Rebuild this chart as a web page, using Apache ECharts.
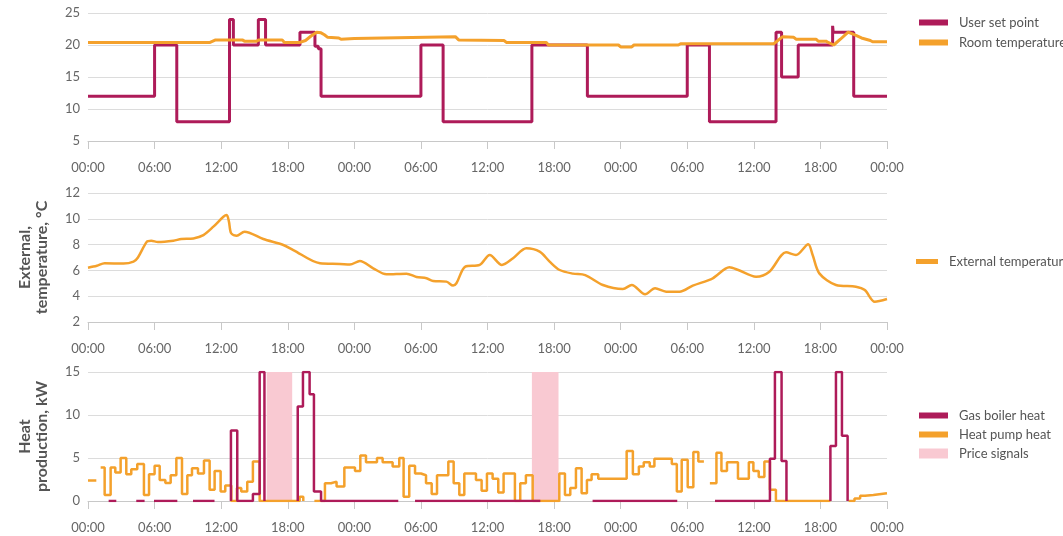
<!DOCTYPE html>
<html>
<head>
<meta charset="utf-8">
<script src="https://cdn.jsdelivr.net/npm/echarts@6/dist/echarts.min.js"></script>
<style>
html, body { margin: 0; padding: 0; background: #fff; }
#main { width: 1063px; height: 536px; }
</style>
</head>
<body>
<div id="main"></div>
<script>
// hours since start (0..72) paired with values
var tickLabels = ['00:00', '06:00', '12:00', '18:00'];

var setPoint = [
    [0, 12], [6, 20], [8, 8], [12.75, 24], [13.1, 20], [15.35, 24], [16, 20], [19.1, 22],
    [20.45, 19.8], [20.75, 19.4], [21, 12], [30, 20], [32, 8], [40, 20], [45, 12], [54, 20],
    [56, 8], [62, 22], [62.5, 15], [64, 20], [67.1, 23], [67.15, 22], [69, 12], [72, 12]
];

var roomTemp = [
    [0, 20.4], [11.0, 20.4], [11.5, 20.8], [13.9, 20.8], [14.1, 20.6], [15.2, 20.6], [15.4, 20.8],
    [17.5, 20.8], [17.7, 20.4], [19.1, 20.4], [19.6, 20.7], [20.1, 21.4], [20.6, 22.0], [21.0, 21.9],
    [21.3, 21.6], [21.6, 21.2], [22.6, 21.1], [22.8, 20.9], [24, 21.0], [33.1, 21.3], [33.4, 20.8],
    [37.5, 20.7], [37.7, 20.4], [41.3, 20.4], [41.5, 20.0], [47.8, 20.0], [48.0, 19.7], [49.0, 19.7],
    [49.2, 20.0], [53.2, 20.0], [53.4, 20.2], [61.8, 20.2], [62.6, 21.3], [63.6, 21.2], [63.8, 20.9],
    [65.6, 20.9], [65.8, 20.6], [66.5, 20.6], [66.7, 20.4], [67.2, 20.0], [67.8, 20.9], [68.5, 22.0],
    [69.2, 21.5], [69.7, 21.1], [70.5, 20.7], [70.7, 20.5], [72, 20.5]
];

var externalTemp = [
    [0, 6.21], [0.8, 6.36], [1.5, 6.55], [3.2, 6.53], [4.1, 6.68], [4.5, 7.0], [5.3, 8.22], [5.7, 8.3],
    [6.3, 8.2], [7.7, 8.3], [8.4, 8.43], [9.5, 8.48], [10.4, 8.74], [11.3, 9.39], [12.2, 10.16],
    [12.5, 10.3], [12.7, 9.78], [12.9, 8.88], [13.4, 8.69], [14.1, 9.0], [15.8, 8.43], [17.6, 7.97],
    [18.5, 7.58], [20.9, 6.55], [22.7, 6.5], [23.6, 6.45], [24.5, 6.73], [25.7, 6.16], [26.9, 5.7],
    [28.7, 5.75], [29.6, 5.49], [30.5, 5.39], [31.1, 5.18], [32.3, 5.13], [32.9, 4.82], [33.2, 5.0],
    [34, 6.29], [35.3, 6.42], [36.2, 7.19], [37.3, 6.42], [38.3, 6.94], [39.5, 7.71], [40.7, 7.45],
    [41.6, 6.68], [42.5, 6.03], [43.7, 5.75], [44.8, 5.64], [46.4, 4.87], [48.2, 4.56], [49, 4.87],
    [50.2, 4.15], [51.1, 4.61], [52.1, 4.35], [53.3, 4.35], [54.5, 4.82], [56.3, 5.39], [57.8, 6.24],
    [58.6, 6.03], [60.2, 5.51], [61.4, 5.9], [62.9, 7.4], [63.8, 7.19], [64.9, 8.02], [65.3, 7.19],
    [65.9, 5.77], [67.4, 4.87], [69.2, 4.74], [70, 4.48], [70.9, 3.57], [72, 3.78]
];

var gasBoiler = [
    [1.86, 0], [2.55, 0], [2.55, null],
    [4.35, 0], [5.1, 0], [5.1, null],
    [5.95, 0], [8.05, 0], [8.05, null],
    [9.46, 0], [11.4, 0], [11.4, null],
    [12.88, 0], [12.88, 8.2], [13.45, 0], [14.86, 0.8], [15.47, 15], [15.9, 0], [15.9, null],
    [18.9, 0], [18.9, 11], [19.37, 15], [19.97, 12.4], [20.36, 1.1], [21.0, 0], [27.96, 0], [27.96, null],
    [29.47, 0], [40.76, 0], [40.76, null],
    [45.47, 0], [53.1, 0], [53.1, null],
    [56.5, 0], [61.45, 4.9], [61.9, 15], [62.5, 4.66], [62.94, 0], [62.94, null],
    [66.9, 0], [66.9, 6.4], [67.4, 15], [67.94, 7.58], [68.45, 0], [68.45, null]
];

var heatPump = [
    [0, 2.37], [0.75, 2.37], [0.75, null],
    [1.14, 3.9], [1.5, 0.7], [2.04, 3.9], [2.46, 3.3], [2.94, 5.0], [3.45, 3.1], [3.9, 3.7], [4.44, 4.3],
    [5.04, 0.7], [5.5, 3.1], [6.0, 4.1], [6.46, 2.45], [6.97, 2.1], [7.45, 3.0], [7.96, 5.0], [8.47, 0.8],
    [8.95, 3.0], [9.37, 3.8], [9.91, 3.2], [10.45, 4.7], [10.96, 1.3], [11.41, 3.5], [11.95, 1.1],
    [12.37, 1.8], [12.91, 0], [13.42, 1.5], [13.81, 1.1], [14.35, 2.25], [14.86, 4.6], [15.47, 0],
    [19.07, 0.5], [19.4, 0], [19.4, null],
    [20.4, 0], [21.35, 2.06], [21.9, 2.25], [22.4, 1.7], [23.1, 3.9], [24.06, 3.5], [24.54, 5.3],
    [25.05, 4.5], [26.04, 5.0], [26.55, 4.5], [27.45, 4.0], [28.05, 5.0], [28.44, 0.5], [28.95, 4.1],
    [29.47, 3.2], [30.0, 3.0], [30.46, 2.06], [30.97, 0.8], [31.45, 3.0], [32.47, 4.6], [32.95, 2.06],
    [33.46, 0.7], [33.91, 3.2], [34.96, 2.45], [35.47, 1.2], [35.95, 3.2], [36.46, 2.6], [36.97, 1.0],
    [37.45, 3.2], [38.47, 0], [38.95, 2.06], [39.46, 3.0], [40.07, 0], [42.47, 3.2], [42.98, 0.7],
    [43.46, 1.5], [43.97, 3.8], [44.48, 0.9], [44.96, 2.45], [45.38, 3.1], [45.98, 2.6], [48.54, 5.8],
    [49.1, 3.1], [49.64, 4.0], [50.08, 4.5], [50.62, 4.0], [51.04, 4.9], [52.61, 4.3], [53.06, 1.1],
    [53.5, 4.8], [54.04, 1.6], [54.55, 5.7], [55.0, 4.6], [55.5, 4.6], [55.5, null],
    [56.04, 2.06], [56.63, 5.6], [57.08, 3.5], [57.58, 4.5], [58.57, 2.6], [59.55, 4.5], [59.96, 3.5],
    [60.44, 2.8], [60.95, 4.6], [61.45, 1.3], [61.99, 0], [66.9, 0], [66.9, null],
    [68.54, 0], [69.07, 0.3], [69.58, 0.6], [70.02, 0.7], [70.77, 0.9], [72, 0.9]
];

var priceStart = [16.1, 40.0];
var priceEnd = [18.4, 42.4];

var CRIMSON = '#AE1B59';
var ORANGE = '#F4A12C';
var PINK = '#F9C9D2';
var FONT = 'Lato';

var dom = document.getElementById('main');
var myChart = echarts.init(dom);

function xAxisFor(i) {
    return {
        type: 'value', gridIndex: i, min: 0, max: 72, interval: 6,
        axisLine: { show: true, lineStyle: { color: '#c8c8c8', width: 1 } },
        axisTick: { show: true, length: 8, lineStyle: { color: '#c8c8c8' } },
        axisLabel: {
            margin: 20, color: '#666', fontSize: 13, fontFamily: FONT,
            formatter: function (v) { return tickLabels[Math.round(v / 6) % 4]; }
        },
        splitLine: { show: false }
    };
}

function yAxisFor(i, min, max, interval, name) {
    return {
        type: 'value', gridIndex: i, min: min, max: max, interval: interval,
        name: name, nameLocation: 'middle', nameGap: 38,
        nameTextStyle: { fontWeight: 'bold', fontSize: 16, color: '#555', fontFamily: FONT, lineHeight: 17 },
        axisLine: { show: false },
        axisTick: { show: false },
        axisLabel: { margin: 8, color: '#666', fontSize: 13, fontFamily: FONT },
        splitLine: { lineStyle: { color: '#dcdcdc', width: 1 } }
    };
}

var legendText = { color: '#555', fontSize: 13, fontFamily: FONT, padding: [0, 0, 0, 6] };

var priceAreas = priceStart.map(function (s, i) {
    return [{ xAxis: s }, { xAxis: priceEnd[i] }];
});

var option = {
    animation: false,
    backgroundColor: '#fff',
    grid: [
        { left: 88, right: 176, top: 13, height: 128 },
        { left: 88, right: 176, top: 193, height: 129 },
        { left: 88, right: 176, top: 372, height: 129 }
    ],
    xAxis: [xAxisFor(0), xAxisFor(1), xAxisFor(2)],
    yAxis: [
        yAxisFor(0, 5, 25, 5, ''),
        yAxisFor(1, 2, 12, 2, 'External,\ntemperature, °C'),
        yAxisFor(2, 0, 15, 5, 'Heat\nproduction, kW')
    ],
    legend: [
        { data: ['User set point', 'Room temperature'], orient: 'vertical', left: 919, top: 16, padding: 0,
          icon: 'rect', itemWidth: 29, itemHeight: 6, itemGap: 7, textStyle: legendText },
        { data: ['External temperature'], orient: 'vertical', left: 916, top: 255, padding: 0,
          icon: 'rect', itemWidth: 22, itemHeight: 5, textStyle: legendText },
        { data: ['Gas boiler heat', 'Heat pump heat'], orient: 'vertical', left: 919, top: 409, padding: 0,
          icon: 'rect', itemWidth: 29, itemHeight: 6, itemGap: 6, textStyle: legendText },
        { data: ['Price signals'], orient: 'vertical', left: 919, top: 447, padding: 0,
          icon: 'rect', itemWidth: 29, itemHeight: 10, textStyle: legendText }
    ],
    series: [
        {
            name: 'User set point', type: 'line', xAxisIndex: 0, yAxisIndex: 0,
            step: 'end', showSymbol: false, data: setPoint, z: 2,
            itemStyle: { color: CRIMSON }, lineStyle: { color: CRIMSON, width: 3 }
        },
        {
            name: 'Room temperature', type: 'line', xAxisIndex: 0, yAxisIndex: 0,
            showSymbol: false, data: roomTemp, z: 3,
            itemStyle: { color: ORANGE }, lineStyle: { color: ORANGE, width: 3 }
        },
        {
            name: 'External temperature', type: 'line', xAxisIndex: 1, yAxisIndex: 1,
            smooth: 0.3, showSymbol: false, data: externalTemp,
            itemStyle: { color: ORANGE }, lineStyle: { color: ORANGE, width: 2.5 }
        },
        {
            name: 'Price signals', type: 'line', xAxisIndex: 2, yAxisIndex: 2,
            data: [], z: 1,
            itemStyle: { color: PINK }, lineStyle: { color: PINK },
            markArea: { silent: true, itemStyle: { color: PINK }, data: priceAreas }
        },
        {
            name: 'Heat pump heat', type: 'line', xAxisIndex: 2, yAxisIndex: 2,
            step: 'end', showSymbol: false, data: heatPump, z: 3,
            itemStyle: { color: ORANGE }, lineStyle: { color: ORANGE, width: 2.5 }
        },
        {
            name: 'Gas boiler heat', type: 'line', xAxisIndex: 2, yAxisIndex: 2,
            step: 'end', showSymbol: false, data: gasBoiler, z: 4,
            itemStyle: { color: CRIMSON }, lineStyle: { color: CRIMSON, width: 2.5 }
        }
    ]
};

if (option && typeof option === 'object') {
    myChart.setOption(option);
}
</script>
</body>
</html>
